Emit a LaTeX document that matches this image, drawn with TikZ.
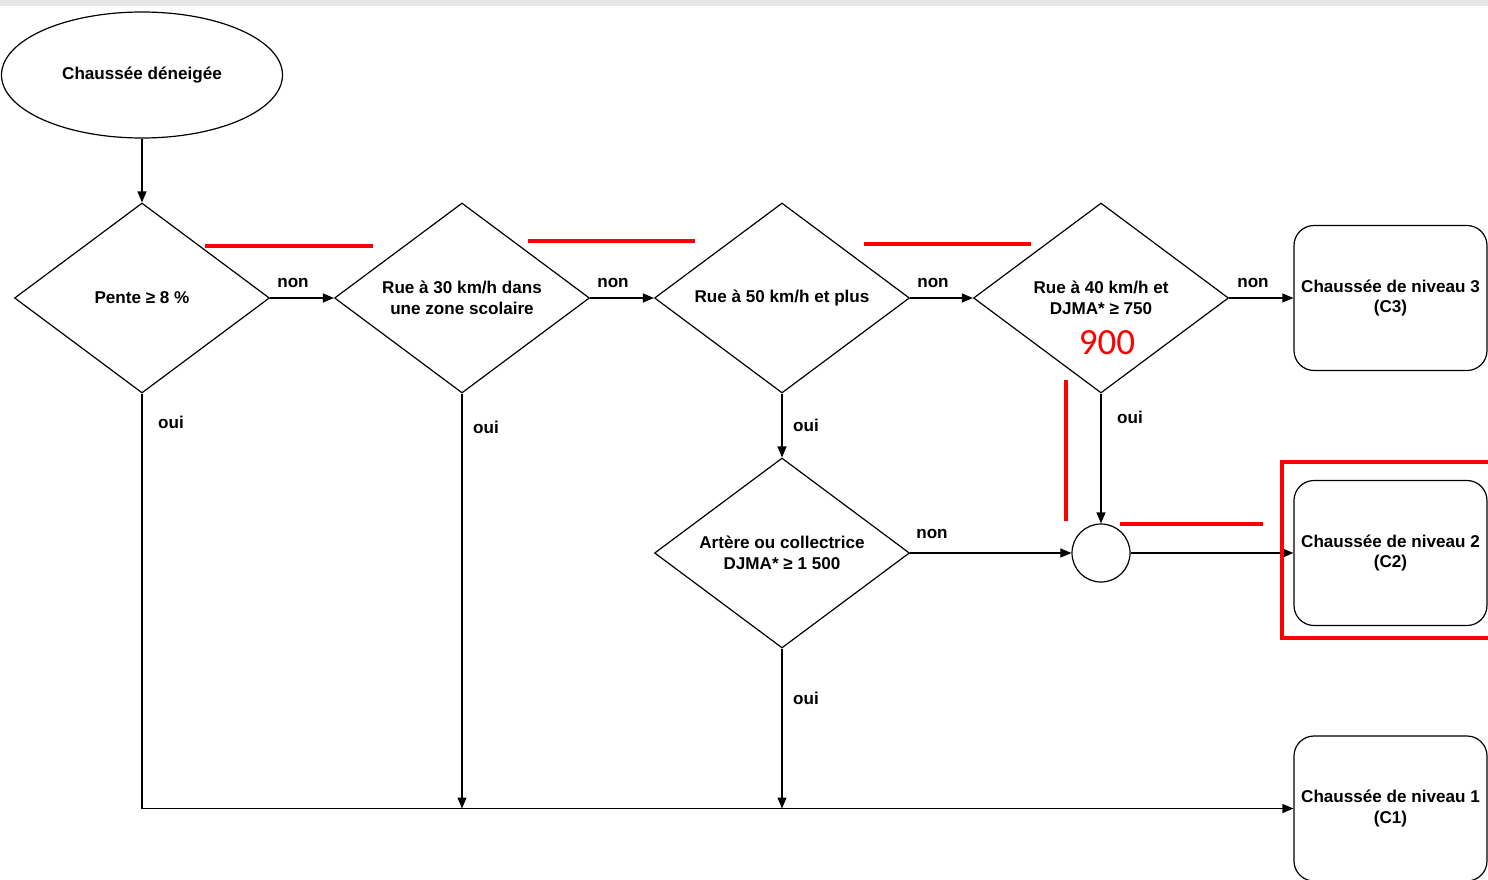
\documentclass[tikz,border=0pt]{standalone}
\usepackage{fontspec}
\setmainfont{Liberation Sans}
\newfontfamily\annofont{Carlito}
\usetikzlibrary{arrows.meta,shapes.geometric}
\tikzset{
  lbl/.style={font=\bfseries\fontsize{17.1}{20.8}\selectfont, align=center},
  dec/.style={draw, line width=1.2pt, shape=diamond, aspect=1.342, minimum width=255pt, minimum height=190pt, inner sep=0pt, lbl},
  endbox/.style={draw, line width=1.2pt, rounded corners=20pt, minimum width=193pt, minimum height=145pt, inner sep=0pt, lbl},
  arr/.style={line width=1.2pt, -{Triangle[length=11pt,width=9pt]}},
  anno/.style={draw=red, line width=4pt},
}
\begin{document}
\begin{tikzpicture}[x=1pt,y=-1pt]
\useasboundingbox (0,0) rectangle (1488,880);
\fill[white] (0,0) rectangle (1488,880);
\fill[black!10] (0,0) rectangle (1488,6);

\node[draw, ellipse, line width=1.2pt, minimum width=281pt, minimum height=126pt, inner sep=0pt, lbl] (start) at (142,75) {Chaussée déneigée};

\node[dec] (d1) at (142,298) {Pente ≥ 8 \%};
\node[dec] (d2) at (462,298) {Rue à 30 km/h dans\\une zone scolaire};
\node[dec] (d3) at (782,298) {Rue à 50 km/h et plus};
\node[dec] (d4) at (1101,298) {};
\node[lbl] (d4t) at (1101,298) {Rue à 40 km/h et\\DJMA* ≥ 750};
\node[dec] (d5) at (782,553) {Artère ou collectrice\\DJMA* ≥ 1 500};

\node[draw, circle, line width=1.2pt, minimum size=58pt, inner sep=0pt] (m) at (1101,553) {};

\node[endbox] (c3) at (1390.5,298) {Chaussée de niveau 3\\(C3)};
\node[endbox] (c2) at (1390.5,553) {Chaussée de niveau 2\\(C2)};
\node[endbox] (c1) at (1390.5,808.5) {Chaussée de niveau 1\\(C1)};

\coordinate (j2) at (462,808.5);
\coordinate (j3) at (782,808.5);

\draw[arr] (start.south) -- (d1.north);
\draw[arr] (d1.east) -- (d2.west);
\draw[arr] (d2.east) -- (d3.west);
\draw[arr] (d3.east) -- (d4.west);
\draw[arr] (d4.east) -- (c3.west);
\draw[arr] (d3.south) -- (d5.north);
\draw[arr] (d5.east) -- (m.west);
\draw[arr] (d4.south) -- (m.north);
\draw[arr] (m.east) -- (c2.west);
\draw[arr] (d1.south) |- (c1.west);
\draw[arr] (d2.south) -- (j2);
\draw[arr] (d5.south) -- (j3);

\node[lbl] (n1) at (293,283) {non};
\node[lbl] (n2) at (613,283) {non};
\node[lbl] (n3) at (933,283) {non};
\node[lbl] (n4) at (1253,283) {non};
\node[lbl] (n5) at (932,534) {non};
\node[lbl] (o1) at (171,422) {oui};
\node[lbl] (o2) at (486,427) {oui};
\node[lbl] (o3) at (806,425) {oui};
\node[lbl] (o4) at (1130,417) {oui};
\node[lbl] (o5) at (806,698) {oui};

% red annotations
\node[text=red, font=\annofont\fontsize{37}{40}\selectfont] (nine) at (1107,343) {900};
\draw[anno] (205,246) -- (373,246);
\draw[anno] (528,241) -- (695,241);
\draw[anno] (864,244) -- (1031,244);
\draw[anno] (1066,380) -- (1066,521);
\draw[anno] (1120,524) -- (1263,524);
\draw[draw=red, line width=3.5pt] (1492,462) -- (1282,462) -- (1282,638) -- (1492,638);
\end{tikzpicture}
\end{document}
